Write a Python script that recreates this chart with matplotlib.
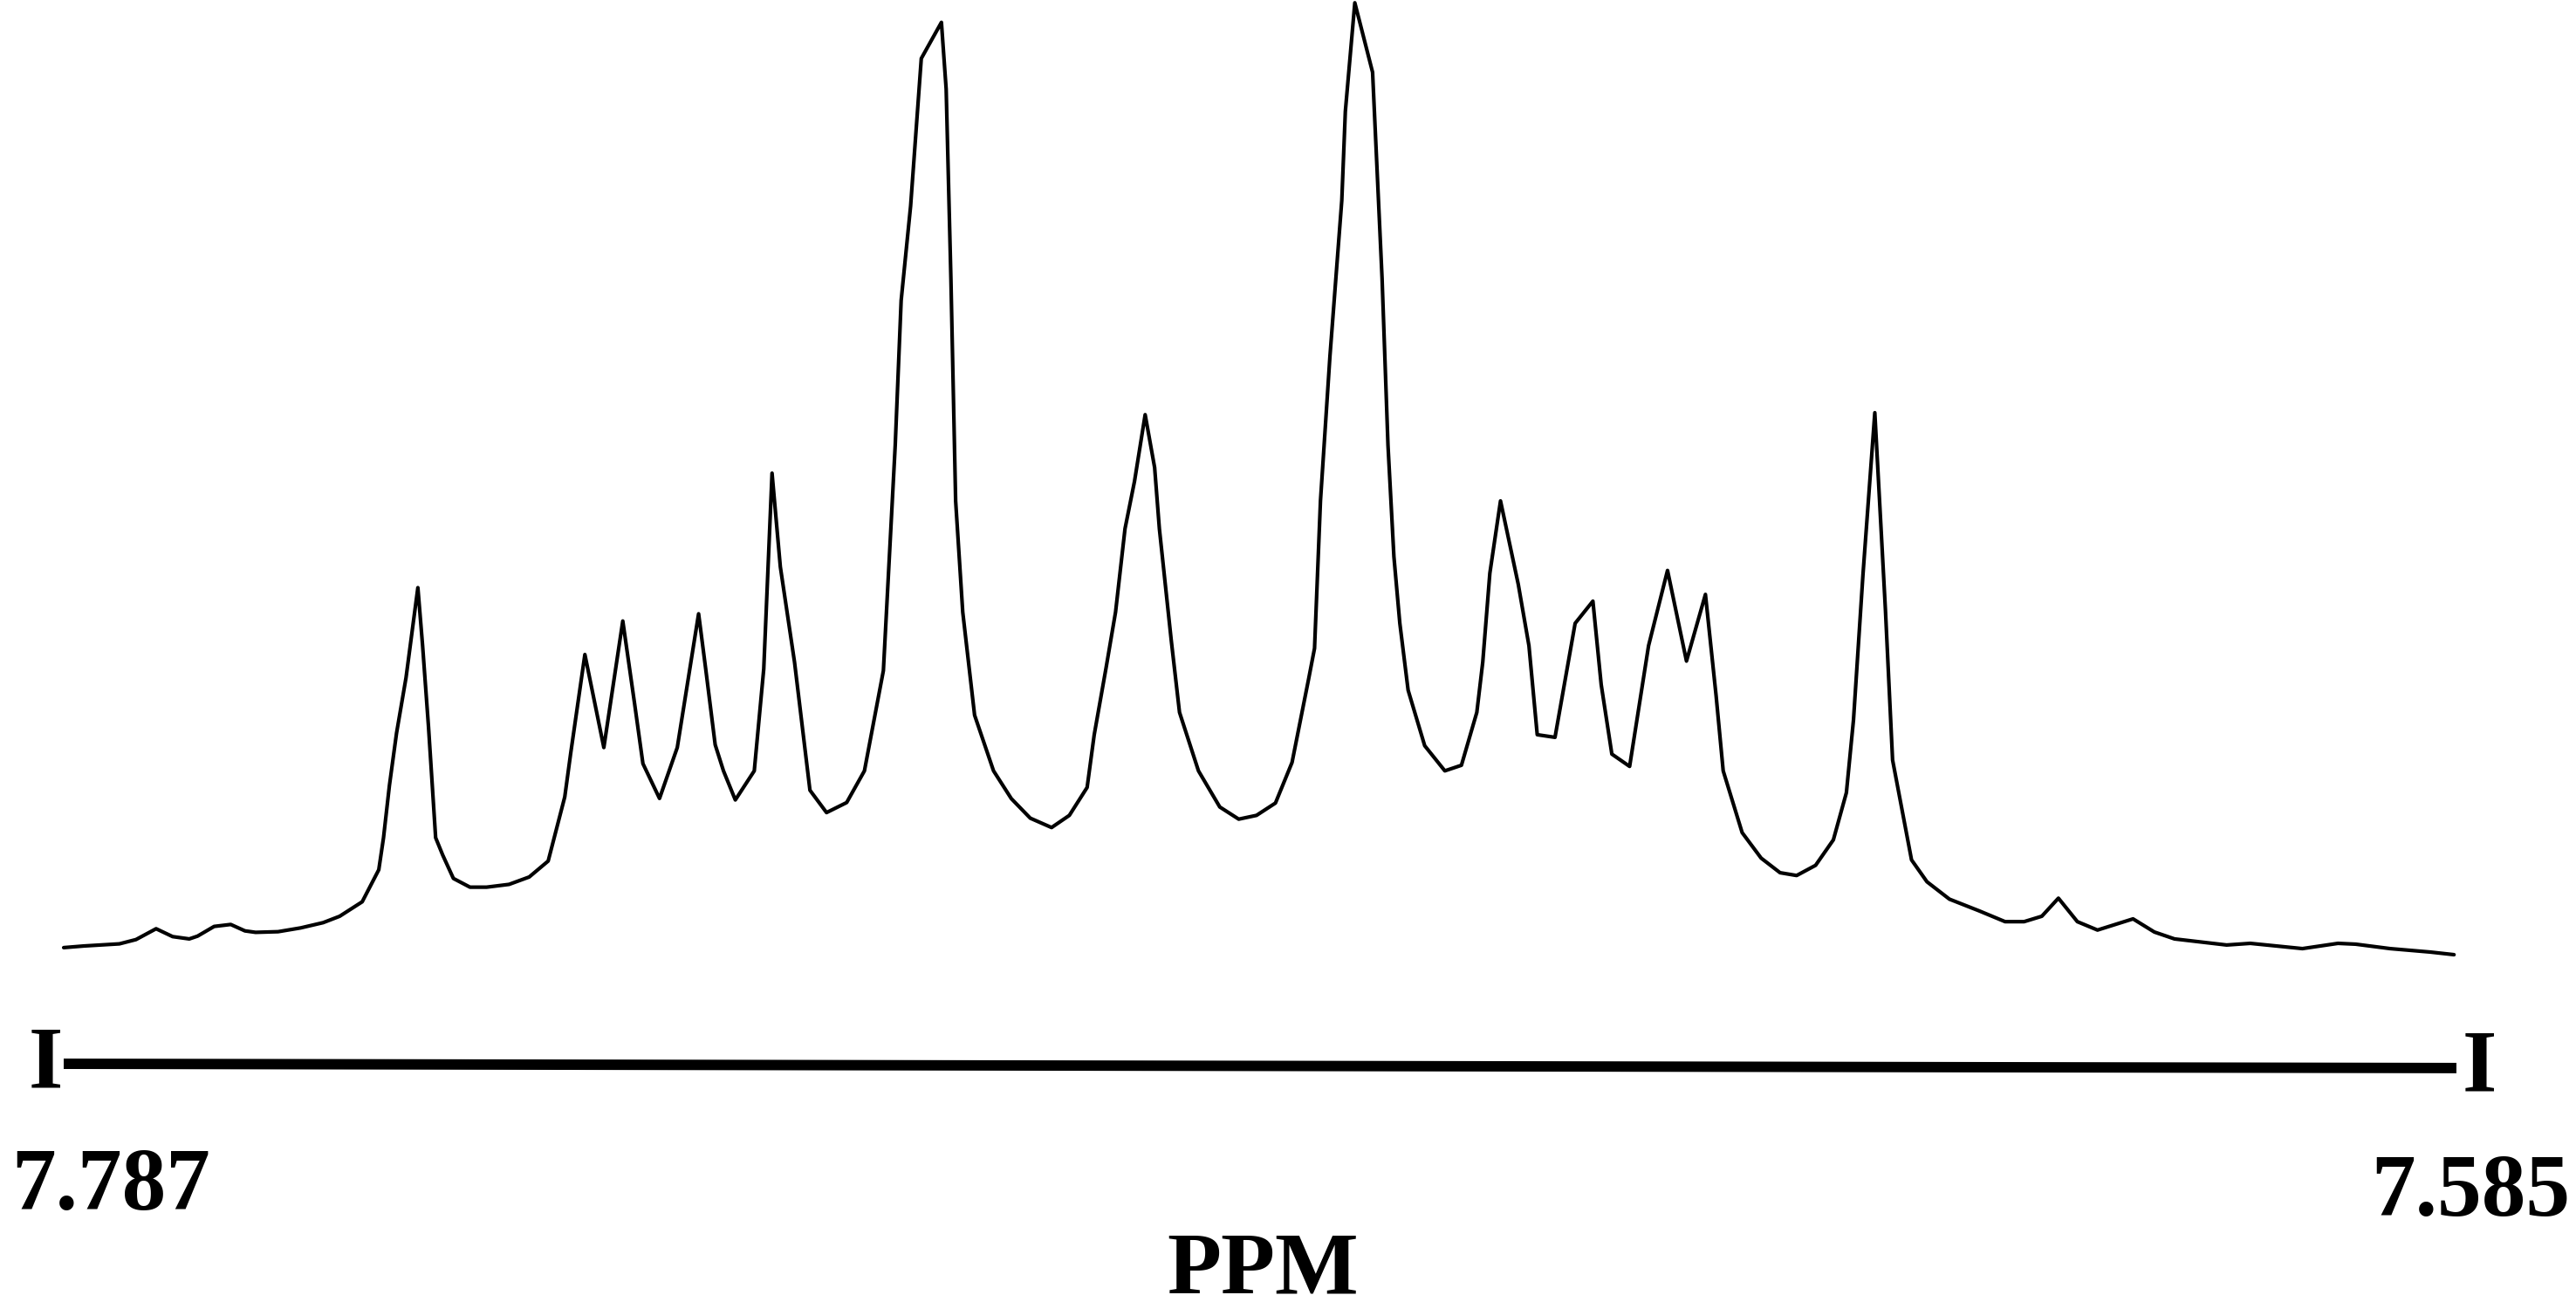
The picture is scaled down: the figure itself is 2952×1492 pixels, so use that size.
import matplotlib
matplotlib.use("Agg")
import matplotlib.pyplot as plt

# 1H NMR multiplet, chemical shift (ppm) vs. intensity (arbitrary units)
ppm = [7.7870, 7.7853, 7.7823, 7.7809, 7.7792, 7.7778, 7.7764, 7.7757, 7.7743, 7.7729,
       7.7717, 7.7708, 7.7689, 7.7670, 7.7651, 7.7637, 7.7618, 7.7604, 7.7600, 7.7595,
       7.7589, 7.7581, 7.7571, 7.7567, 7.7562, 7.7556, 7.7550, 7.7541, 7.7527, 7.7513,
       7.7494, 7.7477, 7.7461, 7.7454, 7.7447, 7.7442, 7.7430, 7.7414, 7.7398, 7.7388,
       7.7381, 7.7367, 7.7352, 7.7334, 7.7328, 7.7320, 7.7313, 7.7303, 7.7287, 7.7279,
       7.7272, 7.7265, 7.7253, 7.7240, 7.7226, 7.7209, 7.7194, 7.7178, 7.7168, 7.7163,
       7.7155, 7.7146, 7.7129, 7.7128, 7.7125, 7.7121, 7.7117, 7.7111, 7.7101, 7.7085,
       7.7070, 7.7054, 7.7036, 7.7021, 7.7006, 7.7000, 7.6990, 7.6982, 7.6974, 7.6966,
       7.6957, 7.6949, 7.6945, 7.6935, 7.6928, 7.6912, 7.6894, 7.6878, 7.6863, 7.6847,
       7.6833, 7.6819, 7.6814, 7.6809, 7.6801, 7.6791, 7.6788, 7.6780, 7.6765, 7.6762,
       7.6757, 7.6752, 7.6747, 7.6742, 7.6735, 7.6721, 7.6704, 7.6690, 7.6677, 7.6672,
       7.6666, 7.6657, 7.6642, 7.6633, 7.6626, 7.6611, 7.6594, 7.6579, 7.6572, 7.6563,
       7.6548, 7.6532, 7.6516, 7.6500, 7.6484, 7.6475, 7.6469, 7.6453, 7.6437, 7.6421,
       7.6407, 7.6391, 7.6376, 7.6365, 7.6359, 7.6351, 7.6341, 7.6332, 7.6326, 7.6310,
       7.6297, 7.6278, 7.6253, 7.6231, 7.6215, 7.6200, 7.6186, 7.6170, 7.6153, 7.6123,
       7.6105, 7.6088, 7.6044, 7.6024, 7.5980, 7.5950, 7.5935, 7.5906, 7.5872, 7.5852]

intensity = [5.2, 6.2, 7.5, 10.1, 16.7, 11.9, 10.5, 12.2, 18.1, 19.3,
             15.4, 14.5, 14.9, 17.2, 20.4, 24.3, 33.1, 52.6, 72.1, 104.0,
             135.8, 169.5, 224.3, 188.9, 139.4, 72.1, 61.5, 47.3, 42.0, 42.0,
             43.7, 48.2, 57.9, 77.4, 96.9, 123.4, 183.6, 127.0, 204.0, 153.5,
             117.2, 96.0, 127.0, 208.4, 174.8, 128.7, 112.8, 95.1, 112.8, 174.8,
             294.0, 237.0, 178.9, 101.0, 87.4, 93.5, 112.8, 173.8, 311.0, 399.1,
             456.7, 546.4, 568.4, 558.3, 527.8, 412.6, 277.1, 209.4, 146.7, 112.8,
             95.9, 84.0, 78.3, 85.7, 102.7, 134.8, 175.5, 209.4, 260.2, 289.0,
             329.6, 297.4, 260.2, 192.4, 148.4, 112.8, 90.8, 83.4, 85.7, 93.2,
             117.9, 168.7, 187.4, 277.1, 365.2, 460.0, 514.2, 580.3, 538.0, 490.5,
             412.6, 311.0, 243.2, 202.6, 161.9, 128.1, 112.8, 116.2, 148.4, 178.9,
             233.1, 277.1, 226.3, 189.0, 134.8, 133.2, 202.6, 216.1, 165.3, 123.0,
             115.5, 189.0, 234.8, 179.6, 220.2, 158.6, 112.8, 75.2, 59.7, 50.8,
             49.1, 55.3, 70.8, 99.5, 143.8, 232.3, 330.8, 210.2, 119.4, 58.6,
             45.3, 34.7, 27.6, 21.0, 21.0, 24.3, 35.3, 21.0, 15.9, 22.7,
             14.7, 10.5, 6.8, 7.8, 4.6, 7.8, 7.3, 4.6, 2.5, 0.9]

# scale bar under the spectrum
ppm_start, ppm_end = 7.787, 7.585
bar_level = [-65.5, -68.1]
axis_label = "PPM"

plt.rcParams['font.family'] = ['Liberation Serif', 'DejaVu Serif']

fig = plt.figure(figsize=(29.52, 14.92), dpi=100)
ax = fig.add_axes([0, 0, 1, 1])

ax.plot(ppm, intensity, color='black', linewidth=3.0, solid_joinstyle='round',
        solid_capstyle='round', clip_on=False)

# thick scale bar with "I" end marks
ax.plot([ppm_start, ppm_end], bar_level, color='black', linewidth=8.6,
        solid_capstyle='butt')

txt = dict(fontsize=73, fontweight='bold', color='black',
           textcoords='offset points', annotation_clip=False)
ax.annotate("I", xy=(ppm_start, bar_level[0]), xytext=(-15, -20),
            ha='center', va='baseline', **txt)
ax.annotate("I", xy=(ppm_end, bar_level[1]), xytext=(19, -19),
            ha='center', va='baseline', **txt)
ax.annotate(f"{ppm_start:.3f}", xy=(ppm_start, bar_level[0]), xytext=(-43, -120),
            ha='left', va='baseline', **txt)
ax.annotate(f"{ppm_end:.3f}", xy=(ppm_end, bar_level[1]), xytext=(94, -122),
            ha='right', va='baseline', **txt)
ax.annotate(axis_label, xy=((ppm_start + ppm_end) / 2, bar_level[1]), xytext=(2, -186),
            ha='center', va='baseline', **txt)

ax.set_xlim(7.792378, 7.574904)
ax.set_ylim(-210.5, 582)
ax.axis('off')

fig.savefig("out.png", dpi=100, facecolor='white')
